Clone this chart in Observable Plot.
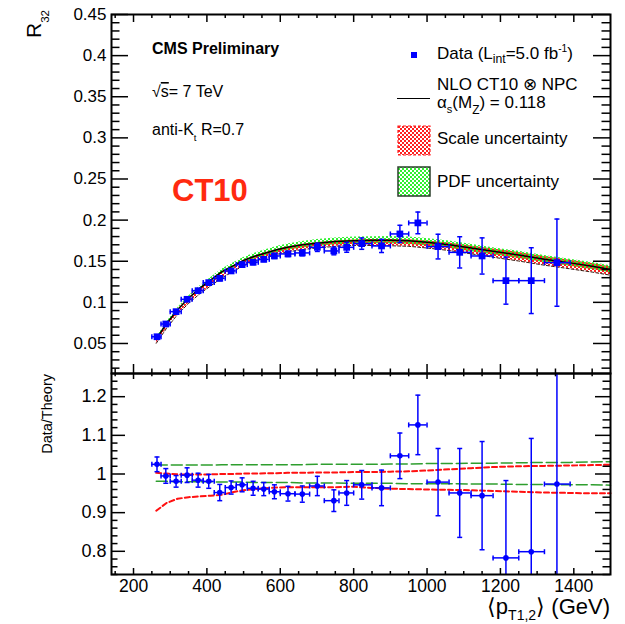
<!DOCTYPE html>
<html>
<head>
<meta charset="utf-8">
<script src="https://cdn.jsdelivr.net/npm/d3@7"></script>
<script src="https://cdn.jsdelivr.net/npm/@observablehq/plot@0.6"></script>
<style>
  body { margin: 0; background: #fff; }
  #chart { position: relative; width: 625px; height: 624px; overflow: hidden; }
  #chart svg { position: absolute; left: 0; overflow: visible; }
</style>
</head>
<body>
<div id="chart"></div>
<script>
// ---- Measured R32 data, 27 bins in <pT1,2> (GeV) ----
const binLo  = [250, 275, 300, 330, 360, 390, 420, 450, 480, 510, 540, 570, 600, 640, 680, 720, 760, 800, 850, 900, 950, 1000, 1060, 1120, 1180, 1250, 1320];
const binHi  = [275, 300, 330, 360, 390, 420, 450, 480, 510, 540, 570, 600, 640, 680, 720, 760, 800, 850, 900, 950, 1000, 1060, 1120, 1180, 1250, 1320, 1390];
const ptMean = [264, 288, 316, 346, 376, 405, 435, 466, 496, 526, 555, 584, 621, 660, 701, 746, 781, 822, 876, 926, 975, 1030, 1089, 1150, 1215, 1284, 1354];
const r32    = [0.0582, 0.0737, 0.0887, 0.1037, 0.1142, 0.1240, 0.1292, 0.1382, 0.1459, 0.1487, 0.1523, 0.1564, 0.1589, 0.1601, 0.1669, 0.1625, 0.1669, 0.1714, 0.1686, 0.1832, 0.1966, 0.1678, 0.1608, 0.1564, 0.1264, 0.1264, 0.1483];
const r32Err = [0.0012, 0.0014, 0.0014, 0.0020, 0.0021, 0.0023, 0.0029, 0.0024, 0.0027, 0.0028, 0.0027, 0.0030, 0.0032, 0.0035, 0.0050, 0.0047, 0.0060, 0.0069, 0.0080, 0.0105, 0.0132, 0.0150, 0.0190, 0.0220, 0.0286, 0.0400, 0.0530];
const ratio    = [1.025, 0.995, 0.981, 0.997, 0.984, 0.981, 0.952, 0.965, 0.972, 0.963, 0.961, 0.954, 0.949, 0.948, 0.969, 0.931, 0.951, 0.972, 0.964, 1.047, 1.127, 0.979, 0.951, 0.944, 0.783, 0.799, 0.974];
const ratioErr = [0.019, 0.019, 0.015, 0.019, 0.018, 0.018, 0.021, 0.017, 0.018, 0.018, 0.017, 0.018, 0.019, 0.021, 0.025, 0.028, 0.032, 0.037, 0.046, 0.059, 0.077, 0.087, 0.115, 0.140, 0.200, 0.293, 0.350];

// ---- NLO CT10 x NPC prediction and its uncertainties (relative to the central value) ----
const theoryPt  = [262, 290, 320, 350, 380, 410, 440, 470, 500, 530, 560, 590, 620, 660, 700, 750, 800, 850, 900, 950, 1000, 1060, 1120, 1180, 1250, 1320, 1390, 1450, 1500];
const theoryR32 = [0.0555, 0.074, 0.091, 0.105, 0.117, 0.127, 0.137, 0.144, 0.151, 0.156, 0.160, 0.164, 0.167, 0.170, 0.172, 0.174, 0.175, 0.1755, 0.1755, 0.175, 0.173, 0.170, 0.166, 0.162, 0.1575, 0.1525, 0.148, 0.144, 0.140];
const scaleLo = [0.905, 0.925, 0.936, 0.940, 0.942, 0.944, 0.946, 0.953, 0.958, 0.961, 0.963, 0.965, 0.966, 0.966, 0.966, 0.966, 0.967, 0.964, 0.962, 0.961, 0.960, 0.959, 0.958, 0.956, 0.954, 0.952, 0.951, 0.950, 0.950];
const scaleHi = [1.003, 1.001, 0.999, 0.999, 0.999, 0.999, 1.000, 1.000, 1.001, 1.001, 1.002, 1.002, 1.003, 1.003, 1.004, 1.004, 1.005, 1.005, 1.006, 1.007, 1.009, 1.012, 1.015, 1.018, 1.020, 1.021, 1.022, 1.023, 1.024];
const pdfLo   = [0.981, 0.981, 0.980, 0.980, 0.980, 0.980, 0.979, 0.979, 0.979, 0.978, 0.978, 0.978, 0.978, 0.977, 0.977, 0.977, 0.976, 0.976, 0.976, 0.975, 0.975, 0.975, 0.974, 0.974, 0.973, 0.973, 0.972, 0.972, 0.971];
const pdfHi   = [1.023, 1.023, 1.023, 1.023, 1.023, 1.023, 1.024, 1.024, 1.024, 1.024, 1.024, 1.024, 1.024, 1.024, 1.025, 1.025, 1.025, 1.025, 1.026, 1.026, 1.027, 1.027, 1.028, 1.028, 1.029, 1.030, 1.030, 1.031, 1.032];

// ---- Tick labels ----
const xTickLabels = [200, 400, 600, 800, 1000, 1200, 1400];
const yTickLabelsTop = [0.05, 0.1, 0.15, 0.2, 0.25, 0.3, 0.35, 0.4, 0.45];
const yTickLabelsRatio = [0.8, 0.9, 1, 1.1, 1.2];

// ---- Layout / style ----
const W = 625, ML = 111, MR = 15;
const TOP_H = 373, TOP_MT = 14;
const BOT_H = 251, BOT_MB = 50;
const innerW = W - ML - MR;
const font = '"Liberation Sans", Arial, Helvetica, sans-serif';
const blue = "#0000ff";

const points = ptMean.map((pt, i) => ({
  pt, lo: binLo[i], hi: binHi[i],
  R: r32[i], eR: r32Err[i],
  ratio: ratio[i], eRatio: ratioErr[i]
}));
const theory = theoryPt.map((x, i) => ({
  x, th: theoryR32[i],
  sLo: scaleLo[i], sHi: scaleHi[i], pLo: pdfLo[i], pHi: pdfHi[i]
}));

// small end caps for the error bars
const capV = {draw(c) { c.moveTo(0, -2.5); c.lineTo(0, 2.5); }};
const capH = {draw(c) { c.moveTo(-2.5, 0); c.lineTo(2.5, 0); }};

function errorBars(yKey, eKey) {
  const yLo = d => d[yKey] - d[eKey];
  const yHi = d => d[yKey] + d[eKey];
  const st = {stroke: blue, strokeWidth: 1.5, clip: true};
  return [
    Plot.ruleY(points, {y: yKey, x1: "lo", x2: "hi", ...st}),
    Plot.ruleX(points, {x: "pt", y1: yLo, y2: yHi, ...st}),
    Plot.dot(points, {x: "lo", y: yKey, symbol: capV, fill: "none", ...st}),
    Plot.dot(points, {x: "hi", y: yKey, symbol: capV, fill: "none", ...st}),
    Plot.dot(points, {x: "pt", y: yLo, symbol: capH, fill: "none", ...st}),
    Plot.dot(points, {x: "pt", y: yHi, symbol: capH, fill: "none", ...st})
  ];
}

// ROOT-style ticks drawn inside the frame on all four sides
function insideTicks({innerH, yMajor, yMinor, xMajor, xMinor, left, right, topT, bottomT}) {
  const s = {stroke: "black", strokeWidth: 1.5};
  return [
    Plot.tickY(yMajor, {y: d => d, insetRight: innerW - left[0], ...s}),
    Plot.tickY(yMinor, {y: d => d, insetRight: innerW - left[1], ...s}),
    Plot.tickY(yMajor, {y: d => d, insetLeft: innerW - right[0], ...s}),
    Plot.tickY(yMinor, {y: d => d, insetLeft: innerW - right[1], ...s}),
    Plot.tickX(xMajor, {x: d => d, insetTop: innerH - bottomT[0], ...s}),
    Plot.tickX(xMinor, {x: d => d, insetTop: innerH - bottomT[1], ...s}),
    Plot.tickX(xMajor, {x: d => d, insetBottom: innerH - topT[0], ...s}),
    Plot.tickX(xMinor, {x: d => d, insetBottom: innerH - topT[1], ...s})
  ];
}

const xMinor = d3.range(150, 1500, 50).filter(v => !xTickLabels.includes(v));
const yMinorTop = d3.range(2, 45).map(i => i / 100).filter(v => Math.round(v * 100) % 5 !== 0);
const yMinorRatio = d3.range(37, 63).map(i => i / 50).filter(v => Math.round(v * 50) % 5 !== 0);

const baseStyle = {fontFamily: font, fontSize: "17px", color: "black", background: "transparent", overflow: "visible"};

// ---------- Upper panel: R32 ----------
const topPlot = Plot.plot({
  width: W, height: TOP_H,
  marginLeft: ML, marginRight: MR, marginTop: TOP_MT, marginBottom: 0,
  x: {domain: [140, 1500], axis: null},
  y: {domain: [0.0135, 0.45], axis: null},
  style: baseStyle,
  marks: [
    Plot.areaY(theory, {x: "x", y1: d => d.th * d.pLo, y2: d => d.th * d.pHi, fill: "url(#pdf-hatch)"}),
    Plot.areaY(theory, {x: "x", y1: d => d.th * d.sLo, y2: d => d.th * d.sHi, fill: "url(#scale-hatch)"}),
    Plot.line(theory, {x: "x", y: d => d.th * d.sLo, stroke: "#3a1a10", strokeWidth: 1, strokeDasharray: "3,2"}),
    Plot.line(theory, {x: "x", y: "th", stroke: "black", strokeWidth: 1.5}),
    ...errorBars("R", "eR"),
    Plot.dot(points, {x: "pt", y: "R", symbol: "square", r: 3.8, fill: blue}),
    ...insideTicks({
      innerH: TOP_H - TOP_MT, yMajor: yTickLabelsTop, yMinor: yMinorTop,
      xMajor: xTickLabels, xMinor,
      left: [17, 8.5], right: [17, 8.5], topT: [8, 4], bottomT: [9, 4.5]
    }),
    Plot.axisY(yTickLabelsTop, {tickSize: 0, tickPadding: 5, fontSize: 17, label: null, tickFormat: d => String(d)}),
    Plot.frame({stroke: "black", strokeWidth: 2})
  ]
});

// ---------- Lower panel: Data / Theory ----------
const botPlot = Plot.plot({
  width: W, height: BOT_H,
  marginLeft: ML, marginRight: MR, marginTop: 0, marginBottom: BOT_MB,
  x: {domain: [140, 1500], axis: null},
  y: {domain: [0.74, 1.26], axis: null},
  style: baseStyle,
  marks: [
    Plot.line(theory, {x: "x", y: "pHi", stroke: "#2e9e2e", strokeWidth: 1.5, strokeDasharray: "11,4"}),
    Plot.line(theory, {x: "x", y: "pLo", stroke: "#2e9e2e", strokeWidth: 1.5, strokeDasharray: "11,4"}),
    Plot.line(theory, {x: "x", y: "sHi", stroke: "#ff1010", strokeWidth: 2, strokeDasharray: "5,3"}),
    Plot.line(theory, {x: "x", y: "sLo", stroke: "#ff1010", strokeWidth: 2, strokeDasharray: "5,3"}),
    ...errorBars("ratio", "eRatio"),
    Plot.dot(points, {x: "pt", y: "ratio", r: 2.8, fill: blue, clip: true}),
    ...insideTicks({
      innerH: BOT_H - BOT_MB, yMajor: yTickLabelsRatio, yMinor: yMinorRatio,
      xMajor: xTickLabels, xMinor,
      left: [14, 6.5], right: [15, 7.5], topT: [6, 3.3], bottomT: [6, 3]
    }),
    Plot.axisY(yTickLabelsRatio, {tickSize: 0, tickPadding: 5, fontSize: 18, label: null, tickFormat: d => String(d)}),
    Plot.axisX(xTickLabels, {tickSize: 0, tickPadding: 5, fontSize: 17.5, label: null, tickFormat: d => String(d)}),
    Plot.frame({stroke: "black", strokeWidth: 2})
  ]
});

topPlot.style.top = "0px";
botPlot.style.top = TOP_H + "px";
const chart = document.getElementById("chart");
chart.appendChild(topPlot);
chart.appendChild(botPlot);

// ---------- Checkered fill patterns for the uncertainty bands ----------
const topSel = d3.select(topPlot);
const defs = topSel.insert("defs", ":first-child");
function checker(id, color, cells) {
  const p = defs.append("pattern").attr("id", id)
    .attr("width", 4).attr("height", 4).attr("patternUnits", "userSpaceOnUse");
  cells.forEach(([x, y]) => p.append("rect").attr("x", x).attr("y", y)
    .attr("width", 2).attr("height", 2).attr("fill", color));
}
checker("scale-hatch", "#ff2020", [[0, 0], [2, 2]]);
checker("pdf-hatch", "#30f030", [[2, 0], [0, 2]]);

// ---------- Text with sub/superscripts ----------
function richText(sel, {x, y, size, weight = "normal", fill = "black", anchor = "start", rotate = 0}, segs) {
  const g = sel.append("g").attr("transform", `translate(${x},${y})` + (rotate ? ` rotate(${rotate})` : ""));
  const t = g.append("text")
    .attr("font-family", font).attr("font-size", size).attr("font-weight", weight)
    .attr("fill", fill).attr("text-anchor", anchor);
  let shift = 0;
  for (const s of segs) {
    const seg = typeof s === "string" ? {t: s} : s;
    const target = seg.sub ? size * (seg.drop ?? 0.3) : seg.sup ? -size * 0.42 : 0;
    const ts = t.append("tspan").text(seg.t).attr("dy", target - shift);
    if (seg.sub || seg.sup) ts.attr("font-size", size * (seg.scale ?? 0.7));
    if (seg.over) ts.attr("text-decoration", "overline");
    shift = target;
  }
  return t;
}

const ann = topSel.append("g");
richText(ann, {x: 41, y: 10, size: 21, anchor: "end", rotate: -90}, ["R", {t: "32", sub: true, scale: 0.55, drop: 0.4}]);
richText(ann, {x: 152, y: 54, size: 16, weight: "bold"}, ["CMS Preliminary"]);
richText(ann, {x: 152, y: 97, size: 16}, ["\u221A", {t: "s", over: true}, "= 7 TeV"]);
richText(ann, {x: 152, y: 135, size: 16}, ["anti-K", {t: "t", sub: true, scale: 0.6, drop: 0.35}, " R=0.7"]);
richText(ann, {x: 172, y: 201, size: 31, weight: "bold", fill: "#ff2a10"}, ["CT10"]);

// legend
const leg = topSel.append("g");
leg.append("rect").attr("x", 411).attr("y", 52).attr("width", 6).attr("height", 6).attr("fill", blue);
richText(leg, {x: 437, y: 59, size: 17}, ["Data (L", {t: "int", sub: true, scale: 0.72, drop: 0.25}, "=5.0 fb", {t: "-1", sup: true, scale: 0.6}, ")"]);
richText(leg, {x: 437, y: 90, size: 17}, ["NLO CT10 \u2297 NPC"]);
richText(leg, {x: 437, y: 108, size: 17}, ["\u03B1", {t: "s", sub: true, scale: 0.65, drop: 0.3}, "(M", {t: "Z", sub: true, scale: 0.7, drop: 0.35}, ") = 0.118"]);
leg.append("line").attr("x1", 397).attr("x2", 430).attr("y1", 98.5).attr("y2", 98.5).attr("stroke", "black").attr("stroke-width", 1);
leg.append("rect").attr("x", 398).attr("y", 126).attr("width", 32).attr("height", 29)
  .attr("fill", "url(#scale-hatch)").attr("stroke", "#ff2020").attr("stroke-width", 1.2).attr("stroke-dasharray", "3,2");
richText(leg, {x: 437, y: 144, size: 17}, ["Scale uncertainty"]);
leg.append("rect").attr("x", 398).attr("y", 167).attr("width", 32).attr("height", 29)
  .attr("fill", "url(#pdf-hatch)").attr("stroke", "#2b3f2b").attr("stroke-width", 1.5);
richText(leg, {x: 437, y: 187, size: 17}, ["PDF uncertainty"]);

// lower-panel titles
const botSel = d3.select(botPlot).append("g");
richText(botSel, {x: 52, y: 1, size: 14.5, anchor: "end", rotate: -90}, ["Data/Theory"]);
richText(botSel, {x: 610, y: 241, size: 22, anchor: "end"}, ["\u27E8p", {t: "T1,2", sub: true, scale: 0.64, drop: 0.28}, "\u27E9 (GeV)"]);
</script>
</body>
</html>
